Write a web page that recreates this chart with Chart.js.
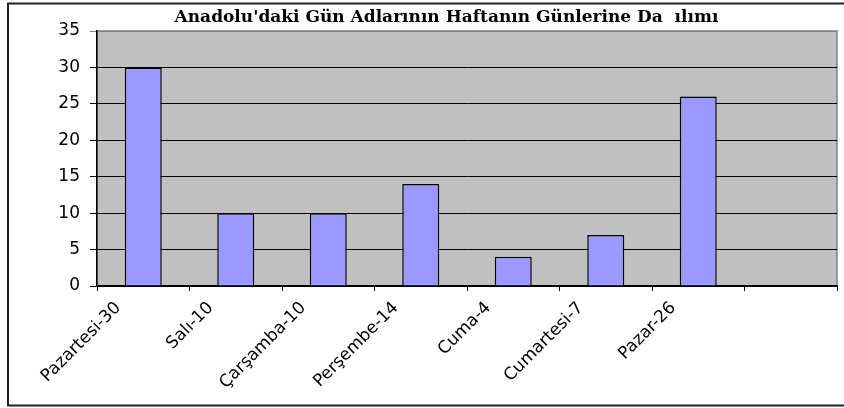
<!DOCTYPE html>
<html>
<head>
<meta charset="utf-8">
<script src="https://cdn.jsdelivr.net/npm/chart.js@4"></script>
<style>
  html, body { margin: 0; padding: 0; background: #fff; }
</style>
</head>
<body>
<canvas id="chart" width="844" height="408"></canvas>
<script>
// veriler
const title = "Anadolu'daki Gün Adlarının Haftanın Günlerine Da  ılımı";
const categories = ["Pazartesi-30", "Salı-10", "Çarşamba-10", "Perşembe-14", "Cuma-4", "Cumartesi-7", "Pazar-26", ""];
const values = [30, 10, 10, 14, 4, 7, 26, null];
const yMin = 0;
const yMax = 35;
const yStep = 5;

// grauer Plotbereich + äußerer Rahmen
const frame = {
  id: "frame",
  beforeDraw(chart) {
    const { ctx, chartArea: a } = chart;
    ctx.save();
    ctx.fillStyle = "#C0C0C0";
    ctx.fillRect(a.left, a.top, a.right - a.left, a.bottom - a.top);
    ctx.strokeStyle = "#808080";
    ctx.lineWidth = 1.5;
    ctx.strokeRect(a.left, a.top, a.right - a.left, a.bottom - a.top);
    ctx.strokeStyle = "#222";
    ctx.lineWidth = 2;
    ctx.strokeRect(8, 3.5, 860, 402);
    ctx.restore();
  },
};

new Chart(document.getElementById("chart"), {
  type: "bar",
  data: {
    labels: categories,
    datasets: [
      {
        data: values,
        backgroundColor: "#9999FF",
        borderColor: "#000",
        borderWidth: 1.5,
        barPercentage: 0.4,
        categoryPercentage: 1,
      },
    ],
  },
  options: {
    responsive: false,
    animation: false,
    devicePixelRatio: 1,
    layout: { padding: { left: 56, top: 3, right: 7, bottom: 6 } },
    plugins: {
      legend: { display: false },
      tooltip: { enabled: false },
      title: {
        display: true,
        text: title,
        color: "#000",
        font: { family: "DejaVu Serif", weight: "bold", size: 17, lineHeight: 1 },
        padding: { top: 6, bottom: 5 },
      },
    },
    scales: {
      x: {
        offset: true,
        grid: {
          offset: true,
          drawOnChartArea: false,
          drawTicks: true,
          tickLength: 5,
          color: "#000",
        },
        border: { display: true, color: "#000", width: 1.5 },
        ticks: {
          autoSkip: false,
          minRotation: 45,
          maxRotation: 45,
          labelOffset: -25,
          padding: 7,
          color: "#000",
          font: { family: "DejaVu Sans", size: 17 },
        },
        afterFit(scale) {
          scale.height = 116;
          scale.paddingLeft = 0;
          scale.paddingRight = 0;
        },
      },
      y: {
        min: yMin,
        max: yMax,
        grid: {
          color: (c) => (c.tick && c.tick.value === yMax ? "#808080" : "#000"),
          tickLength: 7,
        },
        border: { display: true, color: "#000", width: 1.5 },
        ticks: {
          stepSize: yStep,
          padding: 10,
          color: "#000",
          font: { family: "DejaVu Sans", size: 17 },
        },
        afterFit(scale) {
          scale.width = 41;
          scale.paddingTop = 0;
          scale.paddingBottom = 0;
        },
      },
    },
  },
  plugins: [frame],
});
</script>
</body>
</html>
